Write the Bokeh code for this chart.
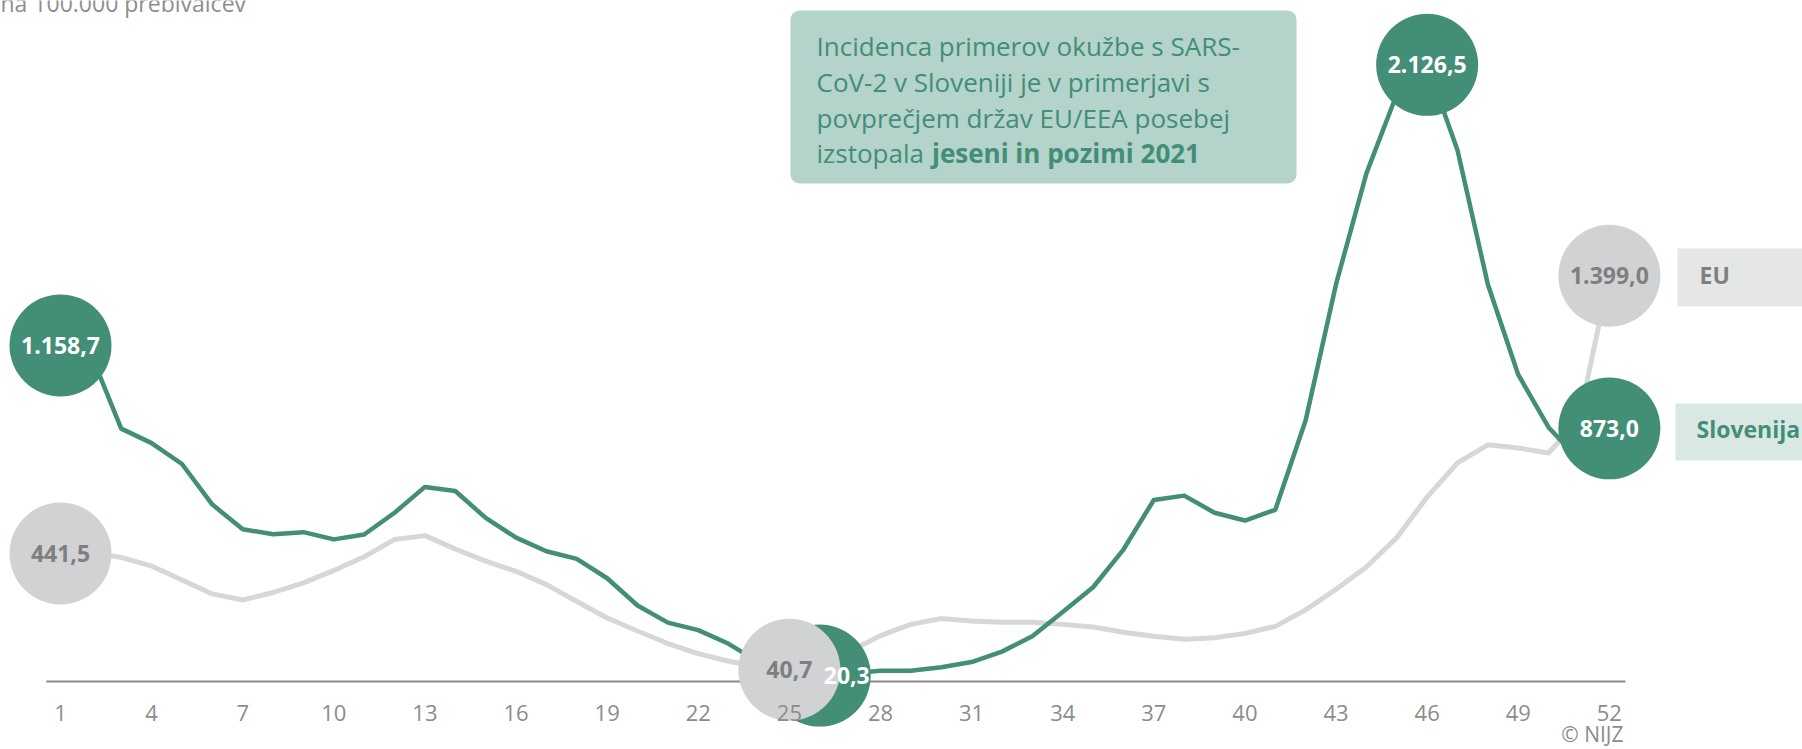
from bokeh.plotting import figure
from bokeh.models import Range1d, FixedTicker, ColumnDataSource, Label, BoxAnnotation
from bokeh.core.properties import value
from bokeh.embed import file_html
from bokeh.resources import INLINE

# ---------------- data ----------------
weeks = list(range(1, 53))
slovenija = [1158.7, 1130, 872, 822, 750, 610, 525, 508, 515, 490,
             507, 582, 671, 657, 564, 496, 449, 423, 356, 262,
             203, 177, 130, 66, 30, 20.3, 28, 37, 37, 49,
             67, 103, 156, 240, 325, 455, 626, 641, 582, 555,
             592, 901, 1370, 1752, 2025, 2126.5, 1832, 1369, 1058, 876,
             765, 873.0]
eu = [441.5, 445, 428, 398, 350, 302, 281, 307, 340, 383,
      430, 490, 503, 457, 415, 380, 334, 276, 219, 174,
      131, 96, 70, 52, 40.7, 60, 105, 158, 197, 217,
      209, 204, 204, 197, 188, 170, 156, 146, 151, 166,
      190, 247, 318, 395, 496, 636, 754, 816, 805, 788,
      905, 1399.0]
tick_weeks = [1, 4, 7, 10, 13, 16, 19, 22, 25, 28, 31, 34, 37, 40, 43, 46, 49, 52]
tick_labels = [str(t) for t in tick_weeks]
series_names = ["EU", "Slovenija"]
subtitle = "na 100.000 prebivalcev"
note_lines = ["Incidenca primerov okužbe s SARS-",
              "CoV-2 v Sloveniji je v primerjavi s",
              "povprečjem držav EU/EEA posebej"]
note_last_normal = "izstopala "
note_last_bold = "jeseni in pozimi 2021"
credit = "© NIJZ"
axis_bounds = (0.53, 52.53)

# ---------------- layout ----------------
W, H = 1802, 749
PX_PER_WEEK = 30.37
PX_PER_UNIT = 0.290
X_W1 = 60      # px of week 1
Y_ZERO = 681   # px of value 0

x0 = 1 - X_W1 / PX_PER_WEEK
x1 = x0 + W / PX_PER_WEEK
y1 = Y_ZERO / PX_PER_UNIT
y0 = y1 - H / PX_PER_UNIT


def px_x(cx):
    return x0 + cx / PX_PER_WEEK


def px_y(cy):
    return y1 - cy / PX_PER_UNIT


GREEN = "#428e77"
GRAY_LINE = "#d6d7d8"
GRAY_CIRCLE = "#d1d2d4"
GRAY_TEXT = "#7f7f7f"
TICK_GRAY = "#8c8c8c"
FONT = "Open Sans"


def fmt(v):
    s = f"{v:,.1f}"
    return s.replace(",", "X").replace(".", ",").replace("X", ".")


p = figure(width=W, height=H, x_range=Range1d(x0, x1), y_range=Range1d(y0, y1),
           output_backend="svg", toolbar_location=None, min_border=0,
           y_axis_location=None, x_axis_location="below",
           background_fill_color="white", border_fill_color="white",
           outline_line_color=None)
p.grid.visible = False

xa = p.xaxis[0]
xa.fixed_location = 0
xa.ticker = FixedTicker(ticks=tick_weeks)
xa.major_label_overrides = {t: l for t, l in zip(tick_weeks, tick_labels)}
xa.axis_line_color = None
xa.major_tick_line_color = None
xa.minor_tick_line_color = None
xa.major_label_text_font = FONT
xa.major_label_text_font_size = "22px"
xa.major_label_text_color = TICK_GRAY
xa.major_label_standoff = 17

# annotation box
p.add_layout(BoxAnnotation(left=px_x(790), right=px_x(1296), top=px_y(10), bottom=px_y(183),
                           fill_color="#b3d3cb", fill_alpha=1.0, line_color=None,
                           border_radius=9, level="underlay"))
baselines = [45.5, 81.5, 117, 152.5]
for txt, b in zip(note_lines, baselines[:3]):
    p.add_layout(Label(x=px_x(816), y=px_y(b), text=txt, text_font=FONT, text_font_size="26px",
                       text_color=GREEN, text_baseline="alphabetic", text_align="left"))
p.add_layout(Label(x=px_x(816), y=px_y(baselines[3]), text=note_last_normal, text_font=FONT,
                   text_font_size="26px", text_color=GREEN, text_baseline="alphabetic"))
p.add_layout(Label(x=px_x(931.5), y=px_y(baselines[3]), text=note_last_bold, text_font=FONT,
                   text_font_size="26px", text_font_style="bold", text_color=GREEN,
                   text_baseline="alphabetic"))

# subtitle (cut at the top edge like the reference)
p.add_layout(Label(x=px_x(0), y=px_y(2), text=subtitle, text_font=FONT, text_font_size="23px",
                   text_color="#8e8e8e", text_baseline="alphabetic"))

# credit
p.add_layout(Label(x=px_x(1623), y=px_y(733), text=credit, text_font=FONT, text_font_size="21px",
                   text_color=TICK_GRAY, text_align="right", text_baseline="alphabetic"))

# baseline
p.segment(x0=[axis_bounds[0]], y0=[0], x1=[axis_bounds[1]], y1=[0], line_color="#8a8a8a", line_width=2)

# lines
p.line(weeks, eu, line_color=GRAY_LINE, line_width=5, line_join="round")
p.line(weeks, slovenija, line_color=GREEN, line_width=4.5, line_join="round")

# highlighted points
n = len(weeks)
slo_idx = [0, slovenija.index(max(slovenija)), n - 1, slovenija.index(min(slovenija))]
eu_idx = [0, n - 1, eu.index(min(eu))]
slo_min_i = slovenija.index(min(slovenija))

slo_src = ColumnDataSource(dict(
    x=[weeks[i] for i in slo_idx], y=[slovenija[i] for i in slo_idx],
    t=[fmt(slovenija[i]) for i in slo_idx],
    dx=[27 if i == slo_min_i else 0 for i in slo_idx]))
eu_src = ColumnDataSource(dict(
    x=[weeks[i] for i in eu_idx], y=[eu[i] for i in eu_idx],
    t=[fmt(eu[i]) for i in eu_idx], dx=[0 for i in eu_idx]))

p.scatter("x", "y", source=slo_src, size=102, marker="circle", fill_color=GREEN, line_color=None)
p.scatter("x", "y", source=eu_src, size=102, marker="circle", fill_color=GRAY_CIRCLE, line_color=None)

p.text("x", "y", text="t", source=eu_src, x_offset="dx", text_font=value(FONT), text_font_style="bold",
       text_font_size="23px", text_color=GRAY_TEXT, text_align="center", text_baseline="middle")
p.text("x", "y", text="t", source=slo_src, x_offset="dx", text_font=value(FONT), text_font_style="bold",
       text_font_size="23px", text_color="white", text_align="center", text_baseline="middle")

# series labels at right
p.add_layout(BoxAnnotation(left=px_x(1677), right=x1 + 5, top=px_y(248), bottom=px_y(306),
                           fill_color="#e5e6e6", fill_alpha=1.0, line_color=None, level="underlay"))
p.add_layout(BoxAnnotation(left=px_x(1675), right=x1 + 5, top=px_y(403), bottom=px_y(460),
                           fill_color="#d9e8e3", fill_alpha=1.0, line_color=None, level="underlay"))
p.add_layout(Label(x=px_x(1699), y=px_y(274), text=series_names[0], text_font=FONT, text_font_size="23px",
                   text_font_style="bold", text_color=GRAY_TEXT, text_baseline="middle"))
p.add_layout(Label(x=px_x(1696), y=px_y(428), text=series_names[1], text_font=FONT, text_font_size="23px",
                   text_font_style="bold", text_color=GREEN, text_baseline="middle"))

open("out.html", "w").write(file_html(p, INLINE))
